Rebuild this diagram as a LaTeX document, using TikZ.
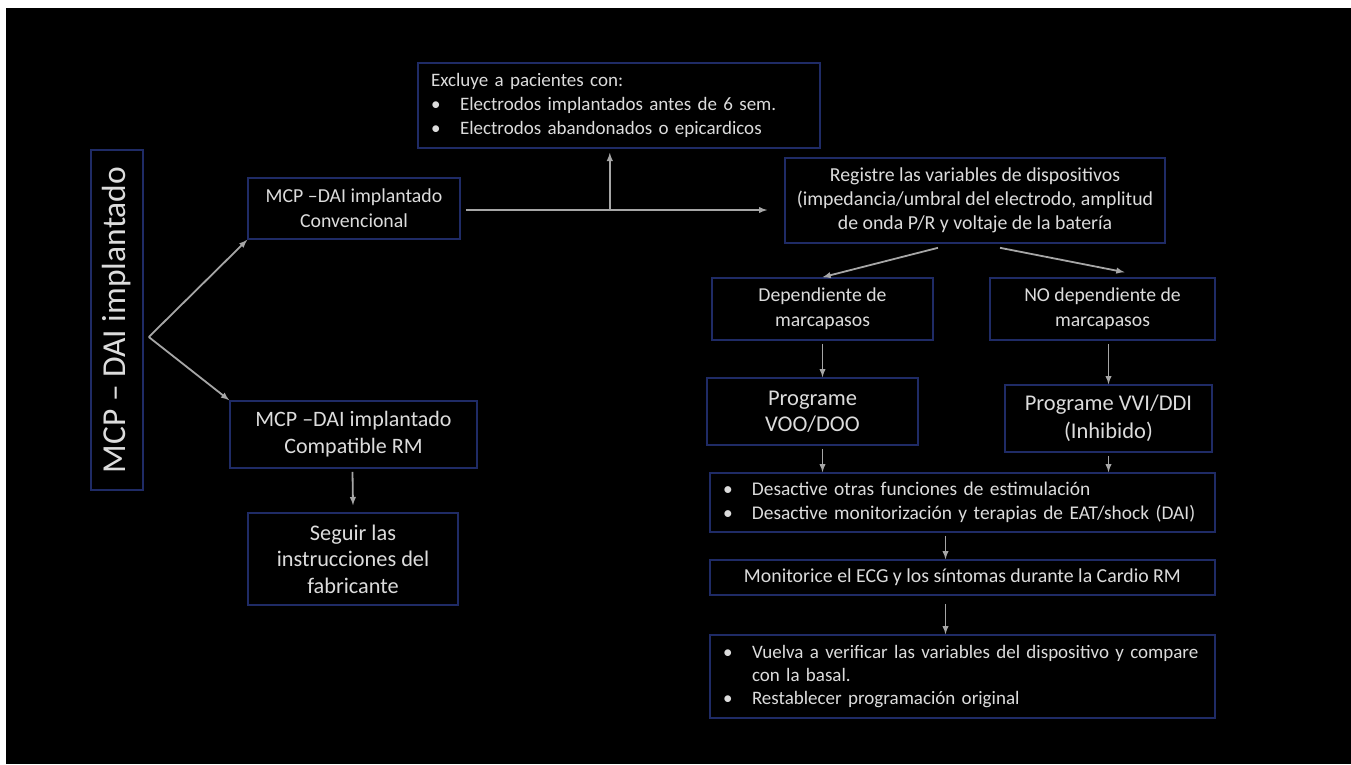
\documentclass[tikz,border=0pt]{standalone}
\usepackage{fontspec}
\setmainfont{Carlito}
\usepackage{tikz}
\usetikzlibrary{shapes,arrows,positioning,calc}
\usepackage{xcolor}

\definecolor{navy}{HTML}{1F2B66}
\definecolor{fg}{HTML}{DCDCDC}
\definecolor{arrowgray}{HTML}{A6A6A6}

\tikzset{
	box/.style={draw=navy,line width=1.6pt,text=fg,align=center,inner sep=0pt},
	listbox/.style={box,align=left,inner xsep=13pt},
	arr/.style={-latex,draw=arrowgray,line width=1.8pt},
}
\newcommand{\itm}{\makebox[29pt][l]{\textbullet}}
\newcommand{\fs}[2]{\fontsize{#1}{#2}\selectfont}

\begin{document}
\begin{tikzpicture}[x=1pt,y=-1pt]
	% page and slide background
	\fill[white] (0,0) rectangle (1351,764);
	\fill[black] (6,8) rectangle (1351,764);
	\useasboundingbox (0,0) rectangle (1351,764);

	%% left branch
	\node[box,minimum width=52,minimum height=340] (main) at (117,320)
		{\rotatebox{90}{\fs{33.5}{36}MCP -- DAI implantado}};
	\node[box,minimum width=212,minimum height=61,font=\fs{19.8}{25}] (conv) at (354,208.5)
		{MCP --DAI implantado\\Convencional};
	\node[box,minimum width=247,minimum height=67,font=\fs{22}{27}] (compat) at (353.5,434.5)
		{MCP --DAI implantado\\Compatible RM};
	\node[box,minimum width=210,minimum height=92,font=\fs{22.3}{26.5}] (seguir) at (353,559)
		{Seguir las\\instrucciones del\\fabricante};

	%% top boxes
	\node[listbox,text width=376,minimum height=85,font=\fs{19}{24}] (excl) at (619,105.5)
		{Excluye a pacientes con:\\
		\itm Electrodos implantados antes de 6 sem.\\
		\itm Electrodos abandonados o epicardicos};
	\node[box,minimum width=380,minimum height=85,font=\fs{19.8}{24}] (reg) at (975,200.5)
		{Registre las variables de dispositivos\\
		(impedancia/umbral del electrodo, amplitud\\
		de onda P/R y voltaje de la batería};

	%% right branch
	\node[box,minimum width=221,minimum height=62,font=\fs{19.7}{25}] (dep) at (822.5,309)
		{Dependiente de\\marcapasos};
	\node[box,minimum width=225,minimum height=62,font=\fs{19.7}{25}] (nodep) at (1102.5,309)
		{NO dependiente de\\marcapasos};
	\node[box,minimum width=211,minimum height=67,font=\fs{22.5}{26}] (proga) at (812.5,411.5)
		{Programe\\VOO/DOO};
	\node[box,minimum width=207,minimum height=67,font=\fs{22.5}{28}] (progb) at (1108.5,418.5)
		{Programe VVI/DDI\\(Inhibido)};
	\node[listbox,text width=479,minimum height=59,font=\fs{19.4}{24}] (desact) at (962.5,502.5)
		{\itm Desactive otras funciones de estimulación\\
		\itm Desactive monitorización y terapias de EAT/shock (DAI)};
	\node[box,minimum width=505,minimum height=35,font=\fs{19.8}{24}] (mon) at (962.5,577.5)
		{Monitorice el ECG y los síntomas durante la Cardio RM};
	\node[listbox,text width=479,minimum height=83,font=\fs{19}{23}] (vuelva) at (962.5,676.5)
		{\itm Vuelva a verificar las variables del dispositivo y compare\\
		\hspace*{29pt}con la basal.\\
		\itm Restablecer programación original};

	%% the arrows
	\coordinate (fork) at ($(main.east)+(5,17)$);
	\draw[arr] (fork) -- (conv.south west);
	\draw[arr] (fork) -- (compat.north west);
	\draw[arr] ($(compat.south)+(-1,3)$) -- ($(seguir.north)+(0,-7)$);
	\draw[arr] ($(conv.east)+(5,1.5)$) -- ($(conv.east -| reg.west)+(-17,1.5)$);
	\coordinate (junc) at ($(conv.east)+(149,1.5)$);
	\draw[arr] (junc) -- ($(junc |- excl.south)+(0,4)$);
	\draw[arr] ($(reg.south)+(-37,4)$) -- (dep.north);
	\draw[arr] ($(reg.south)+(25,4)$) -- ($(nodep.north)+(22,-5)$);
	\draw[arr] ($(dep.south)+(0,3)$) -- (dep.south |- proga.north);
	\draw[arr] ($(progb.north |- nodep.south)+(0,3)$) -- (progb.north);
	\draw[arr] ($(dep.south |- proga.south)+(0,3)$) -- (dep.south |- desact.north);
	\draw[arr] ($(progb.south)+(0,3)$) -- (progb.south |- desact.north);
	\draw[arr] ($(desact.south)+(-17,3)$) -- ($(mon.north)+(-17,0)$);
	\draw[arr] ($(mon.south)+(-17,8)$) -- ($(vuelva.north)+(-17,0)$);
\end{tikzpicture}
\end{document}
